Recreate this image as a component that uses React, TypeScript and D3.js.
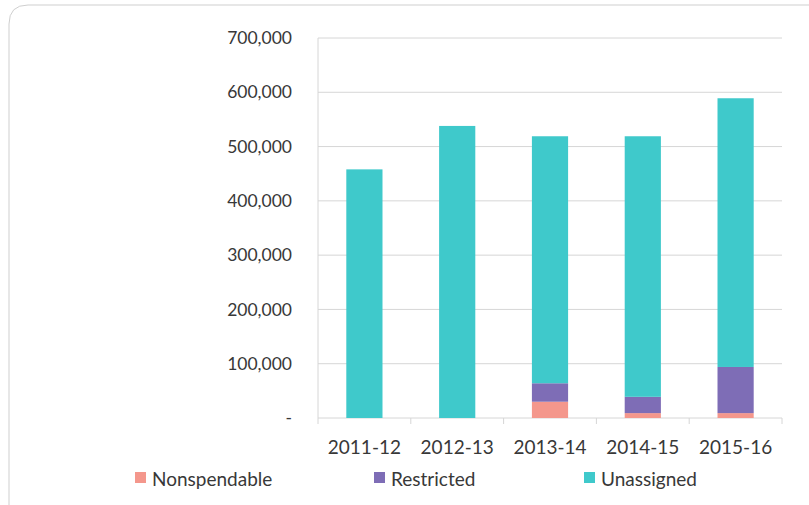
import React from "react";
import * as d3 from "d3";

const categories = ["2011-12", "2012-13", "2013-14", "2014-15", "2015-16"];
const nonspendable = [0, 0, 30000, 9000, 9000];
const restricted = [0, 0, 34000, 30000, 85000];
const unassigned = [458000, 538000, 455000, 480000, 495000];
const seriesNames = ["Nonspendable", "Restricted", "Unassigned"];
const seriesColors = ["#F4978C", "#7E6DB6", "#3FC9CB"];
const yTicks = [0, 100000, 200000, 300000, 400000, 500000, 600000, 700000];

const W = 809;
const H = 505;
const margin = { left: 318, right: 27, top: 38, bottom: 87 };

export default function App() {
  const x = d3
    .scaleBand<string>()
    .domain(categories)
    .range([margin.left, W - margin.right])
    .paddingInner(0.61)
    .paddingOuter(0.305);
  const y = d3.scaleLinear().domain([0, 700000]).range([H - margin.bottom, margin.top]);

  const rows = categories.map((c, i) => ({
    cat: c,
    Nonspendable: nonspendable[i],
    Restricted: restricted[i],
    Unassigned: unassigned[i],
  }));
  const stack = d3.stack<any>().keys(seriesNames)(rows);
  const fmt = d3.format(",");
  const font = "Lato, 'Open Sans', sans-serif";
  const step = x.step();
  const x0 = margin.left;
  const x1 = W - margin.right;
  const base = y(0);
  const legendX = [135, 374, 584];
  const textColor = "#383838";

  return (
    <svg width={W} height={H} style={{ display: "block", position: "absolute", left: 0, top: 0 }}>
      <rect x={0} y={0} width={W} height={H} fill="#fff" />
      <path
        d={`M9,${H + 2} L9,24 Q9,5 28,5 L${W + 2},5`}
        fill="none"
        stroke="#cfcfcf"
        strokeWidth={1}
      />
      {yTicks.map((t) => (
        <g key={t}>
          <line x1={x0} x2={x1} y1={y(t)} y2={y(t)} stroke="#d6d6d6" strokeWidth={1} />
          <text
            x={292}
            y={y(t)}
            dy="0.35em"
            textAnchor="end"
            fontFamily={font}
            fontSize={17.5}
            fill={textColor}
          >
            {t === 0 ? "-" : fmt(t)}
          </text>
        </g>
      ))}
      <line x1={x0} x2={x0} y1={margin.top} y2={base} stroke="#d6d6d6" />
      {d3.range(categories.length + 1).map((i) => (
        <line
          key={i}
          x1={x0 + i * step}
          x2={x0 + i * step}
          y1={base}
          y2={base + 6}
          stroke="#d6d6d6"
        />
      ))}
      {stack.map((s, si) =>
        s.map((d, i) => {
          const h = y(d[0]) - y(d[1]);
          if (h <= 0) return null;
          return (
            <rect
              key={`${si}-${i}`}
              x={x(categories[i])}
              y={y(d[1])}
              width={x.bandwidth()}
              height={h}
              fill={seriesColors[si]}
            />
          );
        })
      )}
      {categories.map((c) => (
        <text
          key={c}
          x={(x(c) as number) + x.bandwidth() / 2}
          y={447}
          dy="0.35em"
          textAnchor="middle"
          fontFamily={font}
          fontSize={19}
          fill={textColor}
        >
          {c}
        </text>
      ))}
      {seriesNames.map((n, i) => (
        <g key={n}>
          <rect x={legendX[i]} y={472} width={11} height={11} fill={seriesColors[i]} />
          <text
            x={legendX[i] + 17}
            y={479}
            dy="0.35em"
            fontFamily={font}
            fontSize={19}
            fill={textColor}
          >
            {n}
          </text>
        </g>
      ))}
    </svg>
  );
}
